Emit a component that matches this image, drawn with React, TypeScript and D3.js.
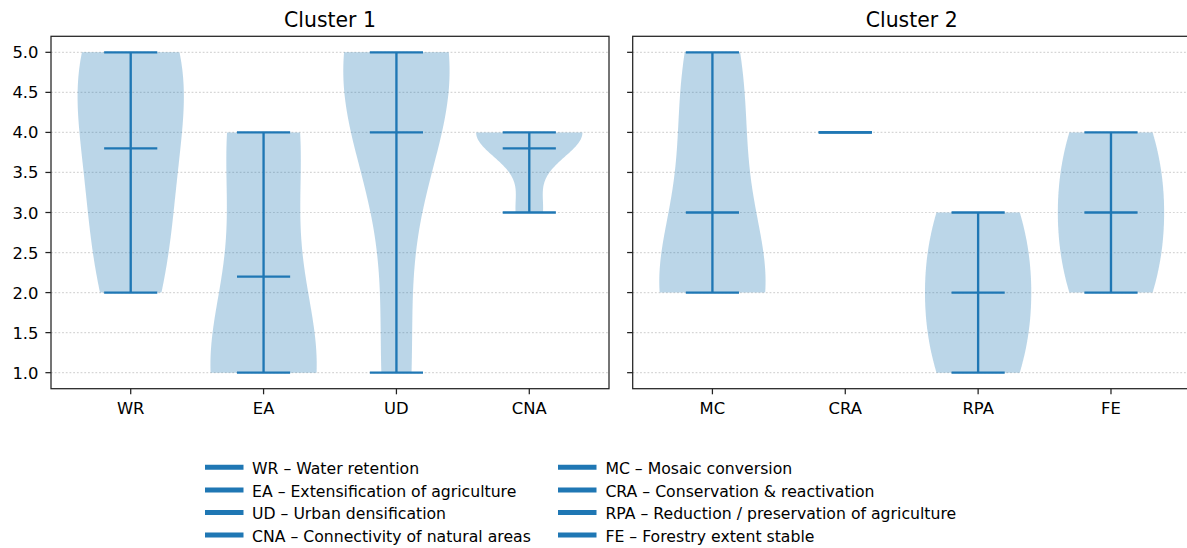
import React from "react";
import * as d3 from "d3";

// ---------- data ----------
const clusterTitles = ["Cluster 1", "Cluster 2"];
const cluster1Names = ["WR", "EA", "UD", "CNA"];
const cluster2Names = ["MC", "CRA", "RPA", "FE"];
// raw scores per indicator (Likert 1-5)
const scoresWR = [2, 3, 4, 5, 5];
const scoresEA = [1, 1, 1, 4, 4];
const scoresUD = [1, 4, 5, 5, 5];
const scoresCNA = [3, 4, 4, 4, 4];
const scoresMC = [2, 2, 2, 4, 5];
const scoresCRA = [4, 4, 4];
const scoresRPA = [1, 2, 3];
const scoresFE = [2, 3, 4];
const cluster1Scores = [scoresWR, scoresEA, scoresUD, scoresCNA];
const cluster2Scores = [scoresMC, scoresCRA, scoresRPA, scoresFE];
const yTicks = [1.0, 1.5, 2.0, 2.5, 3.0, 3.5, 4.0, 4.5, 5.0];
const legendLeft = [
  "WR – Water retention",
  "EA – Extensification of agriculture",
  "UD – Urban densification",
  "CNA – Connectivity of natural areas",
];
const legendRight = [
  "MC – Mosaic conversion",
  "CRA – Conservation & reactivation",
  "RPA – Reduction / preservation of agriculture",
  "FE – Forestry extent stable",
];

// ---------- style ----------
const W = 1187;
const H = 548;
const BLUE = "#1f77b4";
const FONT = "DejaVu Sans, sans-serif";
const TOP = 36.3;
const BOTTOM = 388.7;
const PANEL_W = 558;
const PANEL_X = [51, 632.7];
const VIOLIN_WIDTH = 0.8;
const LW = 2.35;

type Stats = {
  coords: number[];
  vals: number[];
  min: number;
  max: number;
  mean: number;
};

function violinStats(data: number[]): Stats {
  const n = data.length;
  const min = d3.min(data) as number;
  const max = d3.max(data) as number;
  const mean = d3.mean(data) as number;
  const variance = (d3.variance(data) as number) || 0;
  const factor = Math.pow(n, -0.2);
  const cov = variance * factor * factor;
  if (cov === 0 || max === min) {
    return { coords: [], vals: [], min, max, mean };
  }
  const coords = d3.range(100).map((i) => min + ((max - min) * i) / 99);
  const raw = coords.map((x) =>
    d3.sum(data, (xi) => Math.exp((-0.5 * (x - xi) * (x - xi)) / cov))
  );
  const m = d3.max(raw) as number;
  const vals = raw.map((v) => (0.5 * VIOLIN_WIDTH * v) / m);
  return { coords, vals, min, max, mean };
}

function Panel({
  x0,
  title,
  names,
  scores,
  showYLabels,
}: {
  x0: number;
  title: string;
  names: string[];
  scores: number[][];
  showYLabels: boolean;
}) {
  const xs = d3.scaleLinear().domain([0.4, 4.6]).range([x0, x0 + PANEL_W]);
  const ys = d3.scaleLinear().domain([0.8, 5.2]).range([BOTTOM, TOP]);
  const positions = names.map((_, i) => i + 1);

  return (
    <g>
      {/* grid */}
      {yTicks.map((t) => (
        <line
          key={"g" + t}
          x1={x0}
          x2={x0 + PANEL_W}
          y1={ys(t)}
          y2={ys(t)}
          stroke="#d6d6d6"
          strokeWidth={1.2}
          strokeDasharray="1.8 1.9"
        />
      ))}
      {/* violins */}
      {scores.map((data, i) => {
        const pos = positions[i];
        const s = violinStats(data);
        const pts = s.coords.map((c, j) => ({ c, v: s.vals[j] }));
        const area = d3
          .area<{ c: number; v: number }>()
          .y((d) => ys(d.c))
          .x0((d) => xs(pos - d.v))
          .x1((d) => xs(pos + d.v));
        const half = 0.25 * VIOLIN_WIDTH;
        return (
          <g key={"v" + i}>
            {pts.length > 0 && (
              <path d={area(pts) || ""} fill={BLUE} fillOpacity={0.3} stroke="none" />
            )}
            <line
              x1={xs(pos)}
              x2={xs(pos)}
              y1={ys(s.min)}
              y2={ys(s.max)}
              stroke={BLUE}
              strokeWidth={LW}
            />
            {[s.min, s.max, s.mean].map((v, k) => (
              <line
                key={k}
                x1={xs(pos - half)}
                x2={xs(pos + half)}
                y1={ys(v)}
                y2={ys(v)}
                stroke={BLUE}
                strokeWidth={LW}
              />
            ))}
          </g>
        );
      })}
      {/* frame */}
      <rect
        x={x0}
        y={TOP}
        width={PANEL_W}
        height={BOTTOM - TOP}
        fill="none"
        stroke="#222"
        strokeWidth={1.25}
      />
      {/* y ticks */}
      {yTicks.map((t) => (
        <g key={"yt" + t}>
          <line x1={x0 - 5.6} x2={x0} y1={ys(t)} y2={ys(t)} stroke="#222" strokeWidth={1.25} />
          {showYLabels && (
            <text
              x={x0 - 12.5}
              y={ys(t) + 6}
              textAnchor="end"
              fontFamily={FONT}
              fontSize={16.4}
              fill="#000"
            >
              {t.toFixed(1)}
            </text>
          )}
        </g>
      ))}
      {/* x ticks */}
      {names.map((nm, i) => (
        <g key={"xt" + nm}>
          <line
            x1={xs(positions[i])}
            x2={xs(positions[i])}
            y1={BOTTOM}
            y2={BOTTOM + 5.6}
            stroke="#222"
            strokeWidth={1.25}
          />
          <text
            x={xs(positions[i])}
            y={413.5}
            textAnchor="middle"
            fontFamily={FONT}
            fontSize={16.4}
            fill="#000"
          >
            {nm}
          </text>
        </g>
      ))}
      <text
        x={x0 + PANEL_W / 2}
        y={26.7}
        textAnchor="middle"
        fontFamily={FONT}
        fontSize={20.4}
        fill="#000"
      >
        {title}
      </text>
    </g>
  );
}

function Legend() {
  const cols = [
    { items: legendLeft, hx: 205, tx: 252 },
    { items: legendRight, hx: 558, tx: 605.4 },
  ];
  return (
    <g>
      {cols.map((col, ci) =>
        col.items.map((label, i) => {
          const cy = 468.3 + 22.6 * i;
          return (
            <g key={ci + "-" + i}>
              <line
                x1={col.hx}
                x2={col.hx + 38.5}
                y1={cy - 1}
                y2={cy - 1}
                stroke={BLUE}
                strokeWidth={5}
              />
              <text x={col.tx} y={cy + 5.6} fontFamily={FONT} fontSize={15.7} fill="#000">
                {label}
              </text>
            </g>
          );
        })
      )}
    </g>
  );
}

export default function App() {
  return (
    <svg
      width={W}
      height={H}
      viewBox={`0 0 ${W} ${H}`}
      style={{ position: "absolute", left: 0, top: 0, background: "#fff" }}
    >
      <rect x={0} y={0} width={W} height={H} fill="#fff" />
      <Panel
        x0={PANEL_X[0]}
        title={clusterTitles[0]}
        names={cluster1Names}
        scores={cluster1Scores}
        showYLabels={true}
      />
      <Panel
        x0={PANEL_X[1]}
        title={clusterTitles[1]}
        names={cluster2Names}
        scores={cluster2Scores}
        showYLabels={false}
      />
      <Legend />
    </svg>
  );
}
